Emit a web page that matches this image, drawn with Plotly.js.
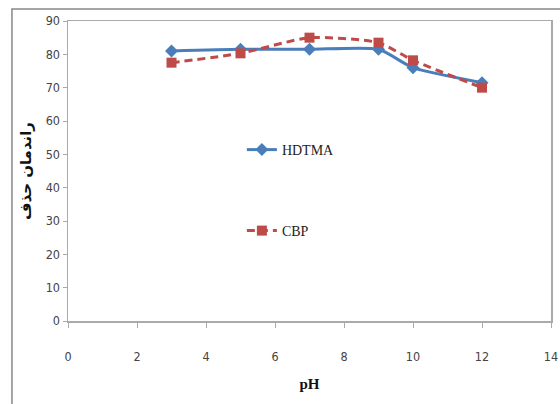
<!DOCTYPE html>
<html><head><meta charset="utf-8">
<script src="https://cdn.plot.ly/plotly-3.0.1.min.js"></script>
<style>body{margin:0;background:#fff}#c{width:560px;height:404px}</style>
</head><body><div id="c"></div>
<script>
const ph = [3, 5, 7, 9, 10, 12];
const hdtma = [81, 81.5, 81.5, 81.5, 76, 71.5];
const cbp = [77.5, 80.3, 85, 83.5, 78.2, 70];
const xTicks = [0, 2, 4, 6, 8, 10, 12, 14];
const yTicks = [0, 10, 20, 30, 40, 50, 60, 70, 80, 90];

const tickFont = {family: 'DejaVu Sans Condensed, Liberation Sans Narrow, Arial', size: 12.5, color: '#444'};
const traces = [
  {x: ph, y: hdtma, name: 'HDTMA', type: 'scatter', mode: 'lines+markers',
   line: {color: '#4a7ebb', width: 3, shape: 'spline', smoothing: 0.6},
   marker: {symbol: 'diamond', size: 10, color: '#4a7ebb'}, legend: 'legend'},
  {x: ph, y: cbp, name: 'CBP', type: 'scatter', mode: 'lines+markers',
   line: {color: '#be4b48', width: 3, dash: '8px,5px', shape: 'spline', smoothing: 0.6},
   marker: {symbol: 'square', size: 10, color: '#be4b48'}, legend: 'legend2'}
];
const legFont = {family: 'Liberation Serif, Times New Roman, serif', size: 14, color: '#222'};
const layout = {
  width: 560, height: 404,
  margin: {l: 68, r: 9, t: 21, b: 83},
  paper_bgcolor: '#fff', plot_bgcolor: '#fff',
  showlegend: true,
  legend: {x: 0.36, y: 0.57, xanchor: 'left', yanchor: 'middle', bgcolor: 'rgba(0,0,0,0)', font: legFont, itemwidth: 30},
  legend2: {x: 0.36, y: 0.30, xanchor: 'left', yanchor: 'middle', bgcolor: 'rgba(0,0,0,0)', font: legFont, itemwidth: 30},
  xaxis: {range: [0, 14], tickvals: xTicks, ticktext: xTicks.map(String), showgrid: false, zeroline: false,
    showline: true, linecolor: '#aaa', linewidth: 1.5, mirror: true, ticks: 'outside', ticklen: 5, tickcolor: '#aaa',
    tickfont: tickFont, ticklabelstandoff: 18,
    title: {text: 'pH', font: {family: 'Liberation Serif, Times New Roman, serif', size: 15, color: '#111', weight: 'bold'}, standoff: 16}},
  yaxis: {range: [0, 90], tickvals: yTicks, ticktext: yTicks.map(String), showgrid: false, zeroline: false,
    showline: true, linecolor: '#aaa', linewidth: 1.5, mirror: true, ticks: 'outside', ticklen: 4, tickcolor: '#aaa',
    tickfont: tickFont,
    title: {text: 'راندمان حذف', font: {family: 'DejaVu Sans, Noto Sans', size: 15, color: '#111', weight: 'bold'}, standoff: 10}},
  shapes: [{type: 'rect', xref: 'paper', yref: 'paper', x0: -0.116, x1: 1.2, y0: -0.5, y1: 1.04,
    line: {color: '#888', width: 1.5}, fillcolor: 'rgba(0,0,0,0)', layer: 'below'}]
};
Plotly.newPlot('c', traces, layout, {displayModeBar: false, staticPlot: true});
</script></body></html>
